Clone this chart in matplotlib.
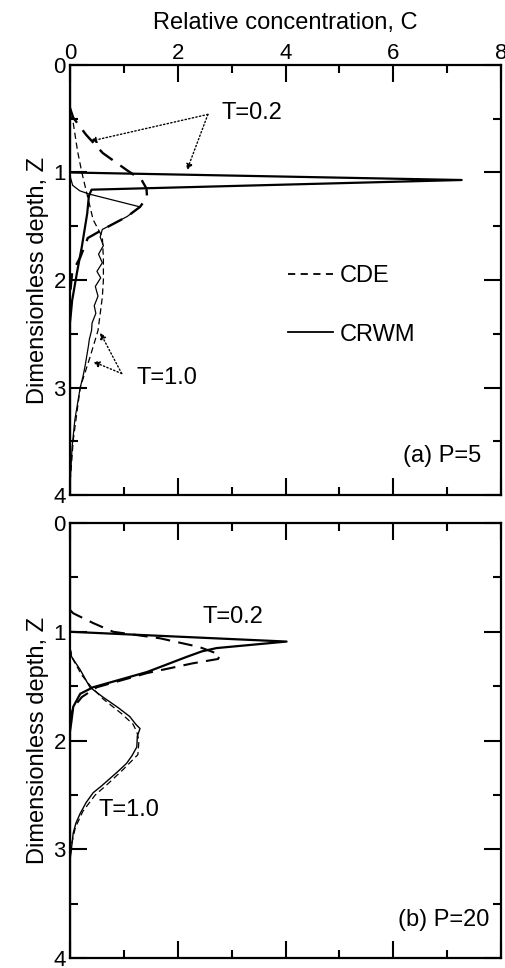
import numpy as np
import matplotlib
matplotlib.use('Agg')
import matplotlib.pyplot as plt
from matplotlib.ticker import MultipleLocator
from matplotlib.lines import Line2D

plt.rcParams['font.family'] = ['Liberation Sans', 'DejaVu Sans']

# (a) P=5
cde_a_02_z = [0.40, 0.49, 0.65, 0.82, 0.98, 1.07, 1.15, 1.23, 1.32, 1.41, 1.53, 1.61, 1.79, 1.93, 2.14]
cde_a_02_c = [0.00, 0.06, 0.30, 0.61, 1.06, 1.33, 1.42, 1.43, 1.30, 1.06, 0.61, 0.33, 0.19, 0.04, 0.00]
cde_a_10_z = [0.45, 0.54, 0.80, 1.00, 1.19, 1.44, 1.60, 1.80, 2.00, 2.16, 2.47, 2.72, 3.00, 3.49, 3.90]
cde_a_10_c = [0.00, 0.06, 0.14, 0.22, 0.31, 0.43, 0.60, 0.62, 0.62, 0.60, 0.52, 0.37, 0.19, 0.06, 0.00]
crwm_a_02_z = [0.00, 1.00, 1.07, 1.16, 1.22, 1.38, 1.69, 1.93, 2.19, 2.40, 4.00]
crwm_a_02_c = [0.00, 0.00, 7.27, 0.40, 0.35, 0.32, 0.22, 0.13, 0.04, 0.00, 0.00]
crwm_a_10_z = [0.95, 1.05, 1.12, 1.17, 1.20, 1.32, 1.41, 1.53, 1.60, 1.68, 1.76, 1.84, 1.92, 1.98,
               2.06, 2.15, 2.24, 2.31, 2.40, 2.47, 2.55, 2.62, 2.71, 2.80, 2.90, 3.00, 3.15, 3.30,
               3.55, 3.90]
crwm_a_10_c = [0.00, 0.01, 0.05, 0.18, 0.35, 1.30, 1.06, 0.60, 0.56, 0.62, 0.53, 0.60, 0.50, 0.57,
               0.47, 0.52, 0.45, 0.48, 0.41, 0.40, 0.36, 0.34, 0.31, 0.28, 0.24, 0.19, 0.14, 0.09,
               0.04, 0.00]

# (b) P=20
cde_b_02_z = [0.80, 0.83, 0.92, 1.00, 1.06, 1.14, 1.21, 1.25, 1.29, 1.38, 1.51, 1.60, 1.70, 1.80]
cde_b_02_c = [0.00, 0.06, 0.43, 0.80, 1.67, 2.40, 2.78, 2.75, 2.28, 1.43, 0.50, 0.22, 0.06, 0.00]
crwm_b_02_z = [0.00, 1.00, 1.09, 1.15, 1.18, 1.23, 1.37, 1.51, 1.57, 1.69, 1.81, 1.92, 4.00]
crwm_b_02_c = [0.00, 0.00, 4.02, 2.72, 2.45, 2.17, 1.43, 0.43, 0.19, 0.06, 0.03, 0.00, 0.00]
cde_b_10_z = [1.15, 1.25, 1.40, 1.51, 1.62, 1.75, 1.85, 1.92, 2.00, 2.13, 2.27, 2.40, 2.50, 2.65,
              2.80, 2.95, 3.10]
cde_b_10_c = [0.00, 0.05, 0.22, 0.40, 0.62, 0.95, 1.17, 1.24, 1.28, 1.26, 0.98, 0.70, 0.47, 0.24,
              0.10, 0.03, 0.00]
crwm_b_10_z = [1.15, 1.23, 1.35, 1.51, 1.60, 1.70, 1.78, 1.85, 1.89, 1.96, 2.06, 2.14, 2.21, 2.28,
               2.35, 2.42, 2.48, 2.57, 2.67, 2.76, 2.85, 2.98, 3.10]
crwm_b_10_c = [0.00, 0.03, 0.19, 0.37, 0.61, 0.90, 1.11, 1.22, 1.30, 1.25, 1.24, 1.15, 1.05, 0.90,
               0.74, 0.58, 0.43, 0.30, 0.19, 0.11, 0.06, 0.03, 0.00]

thick_dash = (0, (7, 4))
thin_dash = (0, (5, 3))
FS = 17

fig = plt.figure(figsize=(5.05, 9.68), dpi=100)
ax1 = fig.add_axes([0.1386, 0.4886, 0.8535, 0.4443])
ax2 = fig.add_axes([0.1386, 0.0103, 0.8535, 0.4494])

for ax in (ax1, ax2):
    ax.set_xlim(0, 8)
    ax.set_ylim(4, 0)
    ax.xaxis.set_major_locator(MultipleLocator(2))
    ax.xaxis.set_minor_locator(MultipleLocator(1))
    ax.yaxis.set_major_locator(MultipleLocator(1))
    ax.yaxis.set_minor_locator(MultipleLocator(0.5))
    ax.tick_params(which='both', direction='in', top=True, bottom=True, left=True, right=True,
                   width=1.5, labelsize=16)
    ax.tick_params(which='major', length=12)
    ax.tick_params(which='minor', length=6)
    ax.tick_params(axis='y', pad=3)
    for s in ax.spines.values():
        s.set_linewidth(1.6)
    ax.set_ylabel('Dimensionless depth, Z', fontsize=FS, labelpad=3)

ax1.tick_params(axis='x', labeltop=True, labelbottom=False, pad=1)
ax1.xaxis.set_label_position('top')
ax1.set_xlabel('Relative concentration, C', fontsize=FS, labelpad=10)
ax2.tick_params(axis='x', labeltop=False, labelbottom=False)

# panel (a)
ax1.plot(cde_a_02_c, cde_a_02_z, color='k', lw=1.7, ls=thick_dash)
ax1.plot(cde_a_10_c, cde_a_10_z, color='k', lw=0.9, ls=thin_dash)
ax1.plot(crwm_a_02_c, crwm_a_02_z, color='k', lw=1.6)
ax1.plot(crwm_a_10_c, crwm_a_10_z, color='k', lw=0.9)

arr = dict(arrowstyle='-|>', ls=':', lw=1.0, color='k', mutation_scale=9, shrinkA=0, shrinkB=0)
ax1.text(2.82, 0.45, 'T=0.2', fontsize=FS, va='center', ha='left')
ax1.annotate('', xy=(0.37, 0.71), xytext=(2.56, 0.46), arrowprops=arr)
ax1.annotate('', xy=(2.17, 0.98), xytext=(2.56, 0.46), arrowprops=arr)
ax1.text(1.24, 2.91, 'T=1.0', fontsize=FS, va='center', ha='left')
ax1.annotate('', xy=(0.56, 2.49), xytext=(0.96, 2.87), arrowprops=arr)
ax1.annotate('', xy=(0.43, 2.76), xytext=(0.96, 2.87), arrowprops=arr)

handles = [Line2D([], [], color='k', lw=1.3, ls=(0, (4, 3))),
           Line2D([], [], color='k', lw=1.3)]
ax1.legend(handles, ['CDE', 'CRWM'], loc='upper left', bbox_to_anchor=(0.505, 0.535),
           frameon=False, fontsize=FS, handlelength=1.9, handletextpad=0.3,
           labelspacing=1.55, borderpad=0, borderaxespad=0)
ax1.text(7.64, 3.64, '(a) P=5', fontsize=FS, va='center', ha='right')

# panel (b)
ax2.plot(cde_b_02_c, cde_b_02_z, color='k', lw=1.5, ls=thick_dash)
ax2.plot(crwm_b_02_c, crwm_b_02_z, color='k', lw=1.6)
ax2.plot(cde_b_10_c, cde_b_10_z, color='k', lw=0.9, ls=thin_dash)
ax2.plot(crwm_b_10_c, crwm_b_10_z, color='k', lw=1.0)
ax2.text(2.46, 0.86, 'T=0.2', fontsize=FS, va='center', ha='left')
ax2.text(0.52, 2.64, 'T=1.0', fontsize=FS, va='center', ha='left')
ax2.text(7.78, 3.65, '(b) P=20', fontsize=FS, va='center', ha='right')

plt.savefig('out.png', dpi=100)
